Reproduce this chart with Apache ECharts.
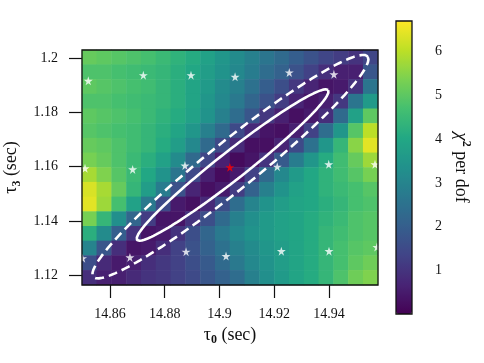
<!DOCTYPE html>
<html>
<head>
<meta charset="utf-8">
<script src="https://cdn.jsdelivr.net/npm/echarts@6/dist/echarts.min.js"></script>
<style>
html, body { margin: 0; padding: 0; background: #fff; }
#chart { width: 484px; height: 363px; }
</style>
</head>
<body>
<div id="chart"></div>
<script>
// tau_0 cell centres (sec)
const tau0Centers = [14.8525, 14.8579, 14.8633, 14.8687, 14.8741, 14.8795, 14.8849, 14.8903, 14.8957, 14.9012,
    14.9066, 14.9120, 14.9174, 14.9228, 14.9282, 14.9336, 14.9390, 14.9444, 14.9498, 14.9552];
// tau_3 cell centres (sec), top row first
const tau3Centers = [1.2004, 1.1950, 1.1895, 1.1841, 1.1787, 1.1733, 1.1678, 1.1624,
    1.1570, 1.1516, 1.1461, 1.1407, 1.1353, 1.1299, 1.1244, 1.1190];
// chi^2 per dof, one row per tau_3 centre (top first), one column per tau_0 centre
const chi2Rows = [
    [5.1, 5.0, 4.9, 4.8, 4.7, 4.5, 4.3, 4.1, 3.8, 3.5, 3.2, 2.9, 2.6, 2.3, 2.0, 1.7, 1.4, 1.2, 1.0, 1.4],
    [4.8, 4.8, 4.7, 4.6, 4.5, 4.4, 4.2, 4.0, 3.7, 3.4, 3.1, 2.8, 2.4, 2.1, 1.7, 1.3, 0.9, 0.6, 0.6, 1.8],
    [5.0, 4.9, 4.8, 4.7, 4.6, 4.4, 4.2, 3.9, 3.6, 3.2, 2.9, 2.5, 2.0, 1.6, 1.1, 0.7, 0.4, 0.5, 1.0, 2.6],
    [4.8, 4.8, 4.7, 4.6, 4.5, 4.4, 4.2, 3.9, 3.5, 3.1, 2.7, 2.2, 1.7, 1.2, 0.7, 0.4, 0.6, 1.1, 2.6, 3.6],
    [5.0, 4.9, 4.8, 4.7, 4.5, 4.3, 4.1, 3.8, 3.4, 2.9, 2.4, 1.8, 1.1, 0.6, 0.3, 0.5, 0.9, 2.3, 3.8, 5.0],
    [4.9, 4.8, 4.7, 4.6, 4.4, 4.2, 3.9, 3.5, 2.9, 2.3, 1.5, 0.8, 0.4, 0.3, 0.6, 1.3, 2.4, 3.5, 4.9, 6.0],
    [5.1, 5.0, 4.8, 4.6, 4.4, 4.1, 3.7, 3.1, 2.3, 1.5, 0.8, 0.3, 0.3, 0.7, 1.5, 2.5, 3.5, 4.4, 5.5, 6.4],
    [5.3, 5.1, 4.8, 4.5, 4.2, 3.8, 3.2, 2.3, 1.4, 0.6, 0.2, 0.4, 1.0, 1.9, 2.8, 3.5, 4.1, 4.6, 5.1, 5.7],
    [5.8, 5.4, 4.9, 4.5, 4.0, 3.4, 2.6, 1.5, 0.6, 0.2, 0.5, 1.3, 2.3, 3.1, 3.6, 4.0, 4.3, 4.6, 4.9, 5.3],
    [6.3, 5.8, 5.1, 4.4, 3.7, 2.8, 1.7, 0.7, 0.3, 0.5, 1.2, 2.1, 2.9, 3.4, 3.8, 4.0, 4.3, 4.5, 4.7, 4.9],
    [6.4, 5.7, 4.7, 3.8, 2.7, 1.5, 0.5, 0.3, 0.8, 1.6, 2.4, 3.0, 3.4, 3.7, 3.9, 4.0, 4.2, 4.4, 4.7, 4.8],
    [5.3, 4.4, 3.3, 2.2, 1.2, 0.4, 0.4, 1.0, 1.6, 2.3, 2.9, 3.3, 3.6, 3.8, 3.9, 4.1, 4.3, 4.5, 4.8, 4.9],
    [4.2, 3.2, 2.0, 1.0, 0.4, 0.5, 1.0, 1.6, 2.2, 2.7, 3.1, 3.4, 3.6, 3.8, 3.9, 4.1, 4.4, 4.6, 4.8, 4.9],
    [3.0, 1.8, 0.9, 0.4, 0.5, 0.9, 1.3, 1.7, 2.1, 2.5, 2.9, 3.2, 3.5, 3.7, 3.9, 4.1, 4.4, 4.7, 4.9, 5.0],
    [1.6, 0.8, 0.5, 0.6, 0.9, 1.1, 1.3, 1.6, 1.9, 2.3, 2.7, 3.1, 3.4, 3.7, 3.9, 4.1, 4.4, 4.7, 5.0, 5.2],
    [0.9, 0.6, 0.6, 0.8, 1.0, 1.1, 1.3, 1.5, 1.8, 2.1, 2.4, 2.9, 3.3, 3.6, 3.9, 4.1, 4.4, 4.8, 5.2, 5.4]
];

const xTicks = [14.86, 14.88, 14.9, 14.92, 14.94];
const yTicks = [1.12, 1.14, 1.16, 1.18, 1.2];
const cbTicks = [1, 2, 3, 4, 5, 6];

// grid points (white stars)
const starX = [14.8521, 14.8722, 14.8896, 14.9057, 14.9255, 14.9418,
    14.8509, 14.8683, 14.8874, 14.9211, 14.9399, 14.9568,
    14.8500, 14.8673, 14.8878, 14.9024, 14.9226, 14.9400, 14.9575];
const starY = [1.1917, 1.1938, 1.1938, 1.1932, 1.1948, 1.1941,
    1.1594, 1.1590, 1.1604, 1.1600, 1.1609, 1.1609,
    1.1262, 1.1265, 1.1286, 1.1270, 1.1288, 1.1288, 1.1303];
// best fit (red star)
const bestX = [14.9038];
const bestY = [1.1598];

// contours: centre, half major axis vector, half minor axis vector (data units)
const innerCenter = [14.9048, 1.1606];
const innerMajor = [0.0349, 0.0277];
const innerMinor = [0.00321, -0.00402];
const outerCenter = [14.904, 1.160];
const outerMajor = [0.0501, 0.0407];
const outerMinor = [0.00551, -0.00689];

const viridis = ['#440154', '#482475', '#414487', '#355f8d', '#2a788e', '#21918c',
    '#22a884', '#44bf70', '#7ad151', '#bddf26', '#fde725'];

const FONT = 'Liberation Serif';
const STAR = 'path://M50,0 L61,35 L98,35 L68,57 L79,91 L50,70 L21,91 L32,57 L2,35 L39,35 Z';

function ellipse(c, a, b) {
    const pts = [];
    for (let k = 0; k <= 160; k++) {
        const t = 2 * Math.PI * k / 160;
        pts.push([c[0] + a[0] * Math.cos(t) + b[0] * Math.sin(t),
                  c[1] + a[1] * Math.cos(t) + b[1] * Math.sin(t)]);
    }
    return pts;
}

const heatData = [];
chi2Rows.forEach(function (row, j) {
    row.forEach(function (v, i) { heatData.push([i, j, v]); });
});

const chart = echarts.init(document.getElementById('chart'));

const fmt = function (v) { return String(parseFloat(v.toFixed(4))); };
const lbl = { color: '#111', fontSize: 14, fontFamily: FONT, margin: 22, formatter: fmt };
const tick = { show: true, inside: false, length: 13, lineStyle: { color: '#111', width: 1.2 } };
const nameRich = {
    t: { fontSize: 18, fontFamily: FONT, color: '#111', lineHeight: 22 },
    s: { fontSize: 12, fontFamily: FONT, fontWeight: 'bold', color: '#111', lineHeight: 13, verticalAlign: 'bottom' }
};

const option = {
    animation: false,
    textStyle: { fontFamily: FONT },
    grid: [
        { left: 82, top: 50, width: 296, height: 235, outerBoundsMode: 'none' },
        { left: 82, top: 50, width: 296, height: 235, outerBoundsMode: 'none',
          show: true, borderColor: '#111', borderWidth: 1.3, z: 5 },
        { left: 396, top: 21, width: 16, height: 293, outerBoundsMode: 'none',
          show: true, borderColor: '#111', borderWidth: 1.3, z: 10 }
    ],
    xAxis: [
        { type: 'category', gridIndex: 0, data: tau0Centers, show: false },
        {
            type: 'value', gridIndex: 1, min: 14.8498, max: 14.9579,
            axisLine: { show: false }, splitLine: { show: false },
            axisTick: Object.assign({ customValues: xTicks }, tick),
            axisLabel: Object.assign({ customValues: xTicks }, lbl),
            name: '{t|τ}{s|0}{t| (sec)}', nameLocation: 'middle', nameGap: 35,
            nameTextStyle: { rich: nameRich }
        },
        { type: 'value', gridIndex: 2, min: 0, max: 1, show: false }
    ],
    yAxis: [
        { type: 'category', gridIndex: 0, data: tau3Centers, inverse: true, show: false },
        {
            type: 'value', gridIndex: 1, min: 1.1163, max: 1.2031,
            axisLine: { show: false }, splitLine: { show: false },
            axisTick: Object.assign({ customValues: yTicks }, tick),
            axisLabel: Object.assign({ customValues: yTicks }, lbl, { margin: 24 }),
            name: '{t|τ}{s|3}{t| (sec)}', nameLocation: 'middle', nameGap: 52, nameRotate: 90,
            nameTextStyle: { rich: nameRich }
        },
        {
            type: 'value', gridIndex: 2, position: 'right', min: 0.015, max: 6.683,
            axisLine: { show: false }, splitLine: { show: false },
            axisTick: Object.assign({ customValues: cbTicks }, tick, { length: 12 }),
            axisLabel: Object.assign({ customValues: cbTicks }, lbl, { margin: 23 }),
            name: '{c|χ}{p|2}{t| per dof}', nameLocation: 'middle', nameGap: 38, nameRotate: -90,
            nameTextStyle: {
                rich: {
                    c: { fontSize: 19, fontFamily: FONT, fontStyle: 'italic', color: '#111', lineHeight: 22 },
                    p: { fontSize: 12, fontFamily: FONT, fontWeight: 'bold', color: '#111', lineHeight: 13, verticalAlign: 'top' },
                    t: { fontSize: 18, fontFamily: FONT, color: '#111', lineHeight: 22 }
                }
            }
        }
    ],
    visualMap: {
        type: 'continuous', seriesIndex: 0, min: 0.015, max: 6.683,
        calculable: false, realtime: false, text: null, showLabel: false,
        left: 396, top: 21, itemWidth: 16, itemHeight: 293, padding: 0,
        inRange: { color: viridis }
    },
    series: [
        {
            type: 'heatmap', xAxisIndex: 0, yAxisIndex: 0, data: heatData,
            emphasis: { disabled: true }, itemStyle: { borderWidth: 0 }
        },
        {
            type: 'line', xAxisIndex: 1, yAxisIndex: 1, data: ellipse(innerCenter, innerMajor, innerMinor),
            showSymbol: false, silent: true, z: 3,
            lineStyle: { color: '#fff', width: 2.6 }
        },
        {
            type: 'line', xAxisIndex: 1, yAxisIndex: 1, data: ellipse(outerCenter, outerMajor, outerMinor),
            showSymbol: false, silent: true, z: 3,
            lineStyle: { color: '#fff', width: 2.6, type: [9, 5] }
        },
        {
            type: 'scatter', xAxisIndex: 1, yAxisIndex: 1, z: 4, silent: true,
            data: starX.map(function (x, i) { return [x, starY[i]]; }),
            symbol: STAR, symbolSize: 9, itemStyle: { color: '#fff' }
        },
        {
            type: 'scatter', xAxisIndex: 1, yAxisIndex: 1, z: 4, silent: true,
            data: bestX.map(function (x, i) { return [x, bestY[i]]; }),
            symbol: STAR, symbolSize: 9, itemStyle: { color: '#ff0000' }
        }
    ]
};

chart.setOption(option);
</script>
</body>
</html>
